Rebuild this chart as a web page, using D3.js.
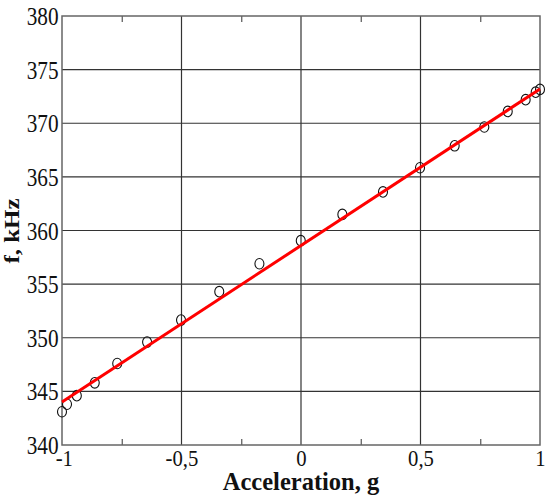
<!DOCTYPE html>
<html>
<head>
<meta charset="utf-8">
<script src="https://cdn.jsdelivr.net/npm/d3@7"></script>
<style>
html,body{margin:0;padding:0;background:#fff;}
svg{display:block;}
</style>
</head>
<body>
<svg id="chart" width="550" height="502"></svg>
<script>
// Measured points
const accel = [-1.0, -0.979, -0.938, -0.863, -0.769, -0.644, -0.502, -0.342, -0.174, -0.001,
               0.173, 0.343, 0.498, 0.643, 0.767, 0.865, 0.940, 0.982, 1.0];
const freq  = [343.1, 343.8, 344.6, 345.8, 347.6, 349.6, 351.65, 354.3, 356.9, 359.05,
               361.5, 363.6, 365.85, 367.9, 369.65, 371.1, 372.2, 372.9, 373.15];
// Linear fit line endpoints
const fitX = [-1, 1];
const fitY = [344.0, 373.2];
// Ticks
const xTicks = [-1, -0.5, 0, 0.5, 1];
const xTickLabels = ["-1", "-0,5", "0", "0,5", "1"];
const xMinorTicks = [-0.75, -0.25, 0.25, 0.75];
const yTicks = [340, 345, 350, 355, 360, 365, 370, 375, 380];
const xTitle = "Acceleration, g";
const yTitle = "f, kHz";

const svg = d3.select("#chart");
const m = {left: 62, top: 16, right: 10, bottom: 57};
const W = 550 - m.left - m.right, H = 502 - m.top - m.bottom;
const x = d3.scaleLinear().domain([-1, 1]).range([m.left, m.left + W]);
const y = d3.scaleLinear().domain([340, 380]).range([m.top + H, m.top]);
const serif = "'Liberation Serif', 'Times New Roman', serif";

// grid
const grid = svg.append("g");
grid.selectAll("line.gx").data(xTicks.slice(1, -1)).join("line")
  .attr("x1", d => x(d)).attr("x2", d => x(d))
  .attr("y1", y(340)).attr("y2", y(380))
  .attr("stroke", "#333").attr("stroke-width", 1.2);
grid.selectAll("line.gy").data(yTicks.slice(1, -1)).join("line")
  .attr("y1", d => y(d)).attr("y2", d => y(d))
  .attr("x1", x(-1)).attr("x2", x(1))
  .attr("stroke", "#333").attr("stroke-width", 1.2);

// minor ticks top and bottom
svg.append("g").attr("transform", `translate(0,${y(340)})`)
  .call(d3.axisBottom(x).tickValues(xMinorTicks).tickSize(-6).tickFormat(""))
  .call(g => g.select(".domain").remove())
  .selectAll("line").attr("stroke", "#555").attr("stroke-width", 1.2);
svg.append("g").attr("transform", `translate(0,${y(380)})`)
  .call(d3.axisTop(x).tickValues(xMinorTicks).tickSize(-6).tickFormat(""))
  .call(g => g.select(".domain").remove())
  .selectAll("line").attr("stroke", "#555").attr("stroke-width", 1.2);

// frame
svg.append("rect").attr("x", x(-1)).attr("y", y(380))
  .attr("width", x(1) - x(-1)).attr("height", y(340) - y(380))
  .attr("fill", "none").attr("stroke", "#666").attr("stroke-width", 1.5);

// x axis labels
const xa = svg.append("g").attr("transform", `translate(0,${y(340)})`)
  .call(d3.axisBottom(x).tickValues(xTicks).tickSize(0).tickPadding(0)
        .tickFormat((d, i) => xTickLabels[i]));
xa.select(".domain").remove();
xa.attr("font-family", serif);
xa.selectAll("text")
  .style("font-family", serif)
  .attr("font-size", 23).attr("fill", "#111")
  .attr("dy", null).attr("y", 21.5)
  .attr("x", (d, i) => i === 0 ? 2 : 0)
  .attr("transform", "scale(0.9,1)")
  .attr("text-anchor", "middle");

// y axis labels
const ya = svg.append("g").attr("transform", `translate(${x(-1)},0)`)
  .call(d3.axisLeft(y).tickValues(yTicks).tickSize(0).tickPadding(0));
ya.select(".domain").remove();
ya.attr("font-family", serif);
ya.selectAll("text")
  .style("font-family", serif)
  .attr("font-size", 25).attr("fill", "#111")
  .attr("x", -3.5 / 0.85).attr("dy", "0.34em")
  .attr("transform", "scale(0.85,1)")
  .attr("text-anchor", "end");

// points
svg.append("g").selectAll("ellipse").data(accel).join("ellipse")
  .attr("cx", d => x(d)).attr("cy", (d, i) => y(freq[i]))
  .attr("rx", 4.5).attr("ry", 5.3)
  .attr("fill", "none").attr("stroke", "#111").attr("stroke-width", 1.1);

// fit line
svg.append("path")
  .datum(fitX.map((d, i) => [d, fitY[i]]))
  .attr("d", d3.line().x(d => x(d[0])).y(d => y(d[1])))
  .attr("stroke", "#ff0000").attr("stroke-width", 3).attr("fill", "none");

// titles
svg.append("text").attr("x", 301).attr("y", 490)
  .attr("text-anchor", "middle")
  .style("font-family", serif)
  .attr("font-weight", "bold").attr("font-size", 24.5).attr("fill", "#111")
  .text(xTitle);
svg.append("text")
  .attr("transform", "translate(19,231) rotate(-90) scale(1.25,1)")
  .attr("text-anchor", "middle")
  .style("font-family", serif)
  .attr("font-weight", "bold").attr("font-size", 20).attr("fill", "#111")
  .text(yTitle);
</script>
</body>
</html>
